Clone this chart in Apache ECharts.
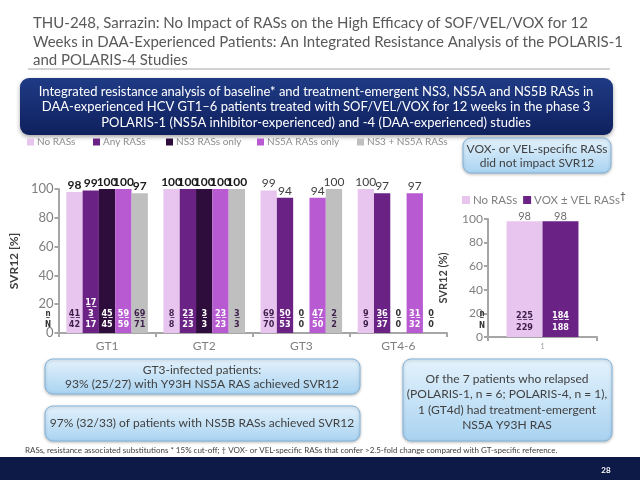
<!DOCTYPE html>
<html><head><meta charset="utf-8">
<script src="https://cdn.jsdelivr.net/npm/echarts@6/dist/echarts.min.js"></script>
<style>html,body{margin:0;padding:0;background:#fff}#c{width:640px;height:480px}</style>
</head><body><div id="c"></div>
<script>
// ---- data ----
const categories = ['GT1', 'GT2', 'GT3', 'GT4-6'];
const groupNames = ['No RASs', 'Any RASs', 'NS3 RASs only', 'NS5A RASs only', 'NS3 + NS5A RASs'];
const svrNoRAS    = [98, 100, 99, 100];
const svrAnyRAS   = [99, 100, 94, 97];
const svrNS3Only  = [100, 100, 0, 0];
const svrNS5AOnly = [100, 100, 94, 97];
const svrNS3NS5A  = [97, 100, 100, 0];
const nNoRAS    = [41, 8, 69, 9],   NNoRAS    = [42, 8, 70, 9];
const nAnyRAS   = [173, 23, 50, 36], NAnyRAS  = [175, 23, 53, 37];
const nNS3Only  = [45, 3, 0, 0],    NNS3Only  = [45, 3, 0, 0];
const nNS5AOnly = [59, 23, 47, 31], NNS5AOnly = [59, 23, 50, 32];
const nNS3NS5A  = [69, 3, 2, 0],    NNS3NS5A  = [71, 3, 2, 0];

const vvCategories = ['1'];
const vvNames = ['No RASs', 'VOX ± VEL RASs'];
const vvSvr = [98, 98];
const vvN = [225, 184], vvNN = [229, 188];

// ---- styling ----
const FF = 'Lato, "Open Sans", sans-serif';
const SF = '"DejaVu Sans Condensed", "DejaVu Sans", sans-serif';
const colors = ['#e8c5ee', '#6b2285', '#2e0c3b', '#b85bd2', '#bfbfbf'];
const lightText = [true, false, false, false, true];
const svrArrays = [svrNoRAS, svrAnyRAS, svrNS3Only, svrNS5AOnly, svrNS3NS5A];
const nArrays = [nNoRAS, nAnyRAS, nNS3Only, nNS5AOnly, nNS3NS5A];
const NArrays = [NNoRAS, NAnyRAS, NNS3Only, NNS5AOnly, NNS3NS5A];

function ul(s) { return String(s).split('').map(c => c + '\u0332').join(''); }
function wrap2(s) { s = String(s); return s.length > 2 ? [s.slice(0, 2), s.slice(2)] : [s]; }

const chart = echarts.init(document.getElementById('c'), null, {renderer: 'canvas'});

const axisLineStyle = {lineStyle: {color: '#a6a6a6', width: 2}};

const series = [];
groupNames.forEach((name, i) => {
  series.push({
    name, type: 'bar', xAxisIndex: 0, yAxisIndex: 0,
    barGap: '0%', barCategoryGap: '16%',
    itemStyle: {color: colors[i]},
    data: svrArrays[i].map((v, j) => ({
      value: v,
      label: {fontWeight: j < 2 ? 'bold' : 'normal', color: j < 2 ? '#1a1a1a' : '#404040'}
    })),
    label: {
      show: true, position: 'top', distance: 1, fontSize: 12, fontFamily: FF,
      formatter: p => NArrays[i][p.dataIndex] ? String(p.value) : ''
    }
  });
  const tc = lightText[i] ? '#3e1f4c' : '#ffffff';
  series.push({
    name: '_lbl' + i, type: 'bar', xAxisIndex: 1, yAxisIndex: 0,
    barGap: '0%', barCategoryGap: '16%', silent: true, z: 5,
    itemStyle: {color: 'rgba(0,0,0,0)'},
    data: svrArrays[i].map((v, j) => ({
      value: v,
      label: NArrays[i][j] === 0 ? {rich: {n: {color: '#333333'}, N: {color: '#333333'}}} : {}
    })),
    label: {
      show: true, position: 'insideBottom', distance: 3,
      formatter: p => {
        const j = p.dataIndex;
        const nl = wrap2(nArrays[i][j]).map(s => '{n|' + ul(s) + '}').join('\n');
        const Nl = '{N|' + wrap2(NArrays[i][j])[0] + '}';
        return nl + '\n' + Nl;
      },
      rich: {
        n: {fontSize: 9, fontWeight: 'bold', color: tc, fontFamily: SF, lineHeight: 11},
        N: {fontSize: 9, fontWeight: 'bold', color: tc, fontFamily: SF, lineHeight: 11}
      }
    }
  });
});

const vvColors = [colors[0], colors[1]];
vvNames.forEach((name, i) => {
  series.push({
    name, type: 'bar', xAxisIndex: 2, yAxisIndex: 1,
    barGap: '0%', barCategoryGap: '34%',
    itemStyle: {color: vvColors[i]},
    data: [vvSvr[i]],
    label: {show: true, position: 'top', distance: -1, fontSize: 11, color: '#6f6f6f', fontFamily: FF}
  });
  const tc = i === 0 ? '#3e1f4c' : '#ffffff';
  series.push({
    name: '_vlbl' + i, type: 'bar', xAxisIndex: 3, yAxisIndex: 1,
    barGap: '0%', barCategoryGap: '34%', silent: true, z: 5,
    itemStyle: {color: 'rgba(0,0,0,0)'},
    data: [vvSvr[i]],
    label: {
      show: true, position: 'insideBottom', distance: 3,
      formatter: () => '{n|' + ul(vvN[i]) + '}\n{N|' + vvNN[i] + '}',
      rich: {
        n: {fontSize: 9, fontWeight: 'bold', color: tc, fontFamily: SF, lineHeight: 12},
        N: {fontSize: 9, fontWeight: 'bold', color: tc, fontFamily: SF, lineHeight: 12}
      }
    }
  });
});

const legendX = [27, 93, 166, 257, 357];
const legends = groupNames.map((n, i) => ({
  data: [n], left: legendX[i], top: 137, padding: 0, itemGap: 0,
  itemWidth: 7, itemHeight: 7, icon: 'rect', selectedMode: false,
  textStyle: {fontSize: 10, color: '#8c8c8c', fontFamily: FF, padding: [0, 0, 0, -2]}
}));
legends.push({
  data: vvNames, left: 462, top: 191, padding: 0, itemGap: 6,
  itemWidth: 8, itemHeight: 8, icon: 'rect', selectedMode: false,
  formatter: n => n === 'VOX ± VEL RASs' ? '{a|VOX ± VEL RASs}{s|†}' : n,
  textStyle: {fontSize: 11.5, color: '#7f7f7f', fontFamily: FF, padding: [0, 0, 0, -2],
    rich: {a: {fontSize: 11.5, color: '#7f7f7f', fontFamily: FF}, s: {fontSize: 10, color: '#333', verticalAlign: 'top', padding: [0, 0, 8, 0]}}}
});

function blueBox(x, y, w, h) {
  return {
    type: 'rect', shape: {x, y, width: w, height: h, r: 8},
    style: {
      fill: {type: 'linear', x: 0, y: 0, x2: 0, y2: 1, colorStops: [{offset: 0, color: '#e4f2fc'}, {offset: 1, color: '#a9d3f1'}]},
      stroke: '#86b6dc', lineWidth: 1, shadowBlur: 3, shadowColor: 'rgba(0,0,0,0.25)', shadowOffsetY: 1
    }, z: 1
  };
}
function txt(x, y, text, opts) {
  return {
    type: 'text', x, y, z: 2,
    style: Object.assign({text, fill: '#404040', font: '12px ' + FF, align: 'center', verticalAlign: 'middle'}, opts || {})
  };
}

const graphics = [
  txt(33, 14, 'THU-248, Sarrazin: No Impact of RASs on the High Efficacy of SOF/VEL/VOX for 12\nWeeks in DAA-Experienced Patients: An Integrated Resistance Analysis of the POLARIS-1\nand POLARIS-4 Studies',
      {font: '15px ' + FF, fill: '#595959', align: 'left', verticalAlign: 'top', lineHeight: 18.5}),
  {type: 'line', shape: {x1: 28, y1: 69, x2: 610, y2: 69}, style: {stroke: '#a6a6a6', lineWidth: 1}},
  {type: 'rect', shape: {x: 20, y: 78, width: 593, height: 57, r: 9},
   style: {fill: {type: 'linear', x: 0, y: 0, x2: 0, y2: 1, colorStops: [{offset: 0, color: '#1f3b85'}, {offset: 1, color: '#0f205d'}]},
     shadowBlur: 4, shadowColor: 'rgba(0,0,0,0.35)', shadowOffsetY: 2}},
  txt(316, 107, 'Integrated resistance analysis of baseline* and treatment-emergent NS3, NS5A and NS5B RASs in\nDAA-experienced HCV GT1–6 patients treated with SOF/VEL/VOX for 12 weeks in the phase 3\nPOLARIS-1 (NS5A inhibitor-experienced) and -4 (DAA-experienced) studies',
      {font: '13px ' + FF, fill: '#ffffff', lineHeight: 15.5}),
  blueBox(463, 138, 148, 35),
  txt(537, 156, 'VOX- or VEL-specific RASs\ndid not impact SVR12', {font: '12px ' + FF, lineHeight: 14}),
  blueBox(45, 359, 315, 35),
  txt(202, 377, 'GT3-infected patients:\n93% (25/27) with Y93H NS5A RAS achieved SVR12', {font: '12px ' + FF, lineHeight: 13.5}),
  blueBox(45, 406, 315, 35),
  txt(202, 423, '97% (32/33) of patients with NS5B RASs achieved SVR12', {font: '12px ' + FF}),
  blueBox(403, 359, 209, 82),
  txt(507, 402, 'Of the 7 patients who relapsed\n(POLARIS-1, n = 6; POLARIS-4, n = 1),\n1 (GT4d) had treatment-emergent\nNS5A Y93H RAS', {font: '12px ' + FF, lineHeight: 15.5}),
  txt(25, 450, 'RASs, resistance associated substitutions * 15% cut-off; † VOX- or VEL-specific RASs that confer >2.5-fold change compared with GT-specific reference.',
      {font: '8px ' + FF, align: 'left', fill: '#404040'}),
  {type: 'rect', shape: {x: 0, y: 457, width: 640, height: 23}, style: {fill: '#0d1a48'}},
  txt(606, 470, '28', {font: 'bold 8px ' + FF, fill: '#ffffff'}),
  txt(48, 314, 'n\u0332', {font: 'bold 8px ' + SF, fill: '#333'}),
  txt(48, 325, 'N', {font: 'bold 8px ' + SF, fill: '#333'}),
  txt(482, 314, 'n\u0332', {font: 'bold 8px ' + SF, fill: '#333'}),
  txt(482, 326, 'N', {font: 'bold 8px ' + SF, fill: '#333'})
];

const option = {
  animation: false,
  backgroundColor: '#ffffff',
  textStyle: {fontFamily: FF},
  legend: legends,
  grid: [
    {left: 52, top: 189, width: 395, height: 144},
    {left: 488, top: 219, width: 109, height: 118}
  ],
  xAxis: [
    {type: 'category', gridIndex: 0, data: categories, axisLine: axisLineStyle,
     axisTick: {show: true, length: 4, lineStyle: {color: '#a6a6a6', width: 2}},
     axisLabel: {color: '#7f7f7f', fontSize: 12, margin: 7, fontFamily: FF}},
    {type: 'category', gridIndex: 0, data: categories, show: false},
    {type: 'category', gridIndex: 1, data: vvCategories, axisLine: axisLineStyle,
     axisTick: {show: true, length: 4, lineStyle: {color: '#a6a6a6', width: 2}},
     axisLabel: {color: '#999', fontSize: 7, margin: 6, fontFamily: FF}},
    {type: 'category', gridIndex: 1, data: vvCategories, show: false}
  ],
  yAxis: [
    {type: 'value', gridIndex: 0, min: 0, max: 100, interval: 20,
     name: 'SVR12 [%]', nameLocation: 'middle', nameGap: 37,
     nameTextStyle: {fontSize: 12, color: '#404040', fontWeight: 'bold', fontFamily: FF},
     axisLine: {show: true, lineStyle: {color: '#a6a6a6', width: 2}},
     axisTick: {show: true, length: 4, lineStyle: {color: '#a6a6a6', width: 2}},
     axisLabel: {color: '#7f7f7f', fontSize: 13, margin: 5, fontFamily: FF},
     splitLine: {show: false}},
    {type: 'value', gridIndex: 1, min: 0, max: 100, interval: 20,
     name: 'SVR12 (%)', nameLocation: 'middle', nameGap: 39,
     nameTextStyle: {fontSize: 11, color: '#404040', fontWeight: 'bold', fontFamily: FF},
     axisLine: {show: true, lineStyle: {color: '#a6a6a6', width: 2}},
     axisTick: {show: true, length: 4, lineStyle: {color: '#a6a6a6', width: 2}},
     axisLabel: {color: '#7f7f7f', fontSize: 12, margin: 5, fontFamily: FF},
     splitLine: {show: false}}
  ],
  series,
  graphic: graphics
};
chart.setOption(option);
</script>
</body></html>
